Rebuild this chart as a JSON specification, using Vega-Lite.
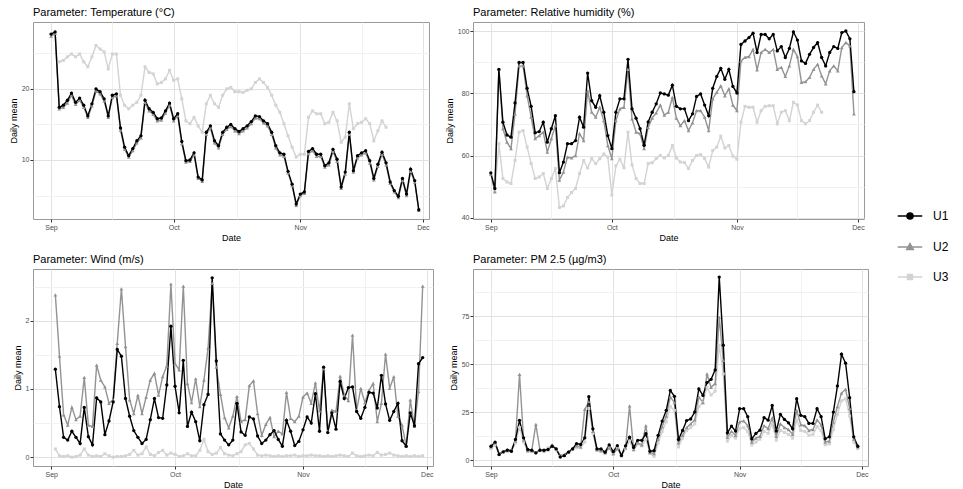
{
"$schema":"https://vega.github.io/schema/vega-lite/v6.json",
"background":"white",
"padding":{"left":8,"top":6,"right":5,"bottom":5},
"config":{
"font":"Liberation Sans",
"view":{"stroke":"#9a9a9a","strokeWidth":1},
"axis":{"labelFontSize":7,"labelColor":"#4d4d4d","titleFontSize":9,"titleFontWeight":"normal","titleColor":"black","tickColor":"#333333","tickSize":3,"domain":false,"labelPadding":1,"titlePadding":3,"labelFlush":false,"labelOverlap":false},
"title":{"fontSize":11,"fontWeight":"normal","anchor":"start","frame":"group","color":"black","offset":4},
"legend":{"padding":0},
"line":{"strokeWidth":1.4},
"point":{"filled":true,"size":11,"opacity":1}
},
"data":{"format":{"parse":{"d":"date:'%m-%d'"}},"values":[
{"p":"T","s":"U3","d":"09-03","v":23.8},{"p":"T","s":"U3","d":"09-04","v":24.0},{"p":"T","s":"U3","d":"09-05","v":24.5},{"p":"T","s":"U3","d":"09-06","v":24.9},{"p":"T","s":"U3","d":"09-07","v":24.5},{"p":"T","s":"U3","d":"09-08","v":24.9},{"p":"T","s":"U3","d":"09-09","v":23.8},{"p":"T","s":"U3","d":"09-10","v":23.1},{"p":"T","s":"U3","d":"09-11","v":24.5},{"p":"T","s":"U3","d":"09-12","v":26.1},{"p":"T","s":"U3","d":"09-13","v":25.6},{"p":"T","s":"U3","d":"09-14","v":25.2},{"p":"T","s":"U3","d":"09-15","v":22.8},{"p":"T","s":"U3","d":"09-16","v":24.9},{"p":"T","s":"U3","d":"09-17","v":24.9},{"p":"T","s":"U3","d":"09-18","v":19.1},{"p":"T","s":"U3","d":"09-19","v":17.7},{"p":"T","s":"U3","d":"09-20","v":17.2},{"p":"T","s":"U3","d":"09-21","v":17.7},{"p":"T","s":"U3","d":"09-22","v":18.1},{"p":"T","s":"U3","d":"09-23","v":19.1},{"p":"T","s":"U3","d":"09-24","v":23.1},{"p":"T","s":"U3","d":"09-25","v":22.3},{"p":"T","s":"U3","d":"09-26","v":22.1},{"p":"T","s":"U3","d":"09-27","v":20.7},{"p":"T","s":"U3","d":"09-28","v":20.9},{"p":"T","s":"U3","d":"09-29","v":21.4},{"p":"T","s":"U3","d":"09-30","v":22.6},{"p":"T","s":"U3","d":"10-01","v":21.2},{"p":"T","s":"U3","d":"10-02","v":21.4},{"p":"T","s":"U3","d":"10-03","v":18.6},{"p":"T","s":"U3","d":"10-04","v":15.5},{"p":"T","s":"U3","d":"10-05","v":15.1},{"p":"T","s":"U3","d":"10-06","v":16.0},{"p":"T","s":"U3","d":"10-07","v":14.8},{"p":"T","s":"U3","d":"10-08","v":13.9},{"p":"T","s":"U3","d":"10-09","v":17.9},{"p":"T","s":"U3","d":"10-10","v":19.1},{"p":"T","s":"U3","d":"10-11","v":17.9},{"p":"T","s":"U3","d":"10-12","v":17.4},{"p":"T","s":"U3","d":"10-13","v":19.1},{"p":"T","s":"U3","d":"10-14","v":20.0},{"p":"T","s":"U3","d":"10-15","v":20.2},{"p":"T","s":"U3","d":"10-16","v":19.6},{"p":"T","s":"U3","d":"10-17","v":19.6},{"p":"T","s":"U3","d":"10-18","v":19.5},{"p":"T","s":"U3","d":"10-19","v":19.8},{"p":"T","s":"U3","d":"10-20","v":20.0},{"p":"T","s":"U3","d":"10-21","v":20.9},{"p":"T","s":"U3","d":"10-22","v":21.4},{"p":"T","s":"U3","d":"10-23","v":20.9},{"p":"T","s":"U3","d":"10-24","v":20.2},{"p":"T","s":"U3","d":"10-25","v":19.1},{"p":"T","s":"U3","d":"10-26","v":17.7},{"p":"T","s":"U3","d":"10-27","v":16.7},{"p":"T","s":"U3","d":"10-28","v":15.1},{"p":"T","s":"U3","d":"10-29","v":13.4},{"p":"T","s":"U3","d":"10-30","v":11.8},{"p":"T","s":"U3","d":"10-31","v":10.4},{"p":"T","s":"U3","d":"11-01","v":10.8},{"p":"T","s":"U3","d":"11-02","v":10.8},{"p":"T","s":"U3","d":"11-03","v":16.0},{"p":"T","s":"U3","d":"11-04","v":16.9},{"p":"T","s":"U3","d":"11-05","v":16.5},{"p":"T","s":"U3","d":"11-06","v":16.5},{"p":"T","s":"U3","d":"11-07","v":15.1},{"p":"T","s":"U3","d":"11-08","v":15.3},{"p":"T","s":"U3","d":"11-09","v":16.7},{"p":"T","s":"U3","d":"11-10","v":15.5},{"p":"T","s":"U3","d":"11-11","v":12.5},{"p":"T","s":"U3","d":"11-12","v":13.2},{"p":"T","s":"U3","d":"11-13","v":17.9},{"p":"T","s":"U3","d":"11-14","v":14.4},{"p":"T","s":"U3","d":"11-15","v":15.1},{"p":"T","s":"U3","d":"11-16","v":15.3},{"p":"T","s":"U3","d":"11-17","v":15.8},{"p":"T","s":"U3","d":"11-18","v":15.1},{"p":"T","s":"U3","d":"11-19","v":12.7},{"p":"T","s":"U3","d":"11-20","v":14.1},{"p":"T","s":"U3","d":"11-21","v":15.5},{"p":"T","s":"U3","d":"11-22","v":14.6},
{"p":"T","s":"U2","d":"09-01","v":27.4},{"p":"T","s":"U2","d":"09-02","v":27.8},{"p":"T","s":"U2","d":"09-03","v":17.2},{"p":"T","s":"U2","d":"09-04","v":17.4},{"p":"T","s":"U2","d":"09-05","v":18.0},{"p":"T","s":"U2","d":"09-06","v":19.1},{"p":"T","s":"U2","d":"09-07","v":17.8},{"p":"T","s":"U2","d":"09-08","v":18.4},{"p":"T","s":"U2","d":"09-09","v":17.4},{"p":"T","s":"U2","d":"09-10","v":16.0},{"p":"T","s":"U2","d":"09-11","v":17.6},{"p":"T","s":"U2","d":"09-12","v":19.7},{"p":"T","s":"U2","d":"09-13","v":19.3},{"p":"T","s":"U2","d":"09-14","v":18.3},{"p":"T","s":"U2","d":"09-15","v":16.0},{"p":"T","s":"U2","d":"09-16","v":18.8},{"p":"T","s":"U2","d":"09-17","v":19.0},{"p":"T","s":"U2","d":"09-18","v":14.2},{"p":"T","s":"U2","d":"09-19","v":11.5},{"p":"T","s":"U2","d":"09-20","v":10.4},{"p":"T","s":"U2","d":"09-21","v":11.3},{"p":"T","s":"U2","d":"09-22","v":12.4},{"p":"T","s":"U2","d":"09-23","v":13.1},{"p":"T","s":"U2","d":"09-24","v":18.1},{"p":"T","s":"U2","d":"09-25","v":16.9},{"p":"T","s":"U2","d":"09-26","v":16.4},{"p":"T","s":"U2","d":"09-27","v":15.5},{"p":"T","s":"U2","d":"09-28","v":15.6},{"p":"T","s":"U2","d":"09-29","v":16.6},{"p":"T","s":"U2","d":"09-30","v":17.7},{"p":"T","s":"U2","d":"10-01","v":15.5},{"p":"T","s":"U2","d":"10-02","v":16.2},{"p":"T","s":"U2","d":"10-03","v":12.3},{"p":"T","s":"U2","d":"10-04","v":9.7},{"p":"T","s":"U2","d":"10-05","v":9.8},{"p":"T","s":"U2","d":"10-06","v":10.7},{"p":"T","s":"U2","d":"10-07","v":7.4},{"p":"T","s":"U2","d":"10-08","v":7.0},{"p":"T","s":"U2","d":"10-09","v":13.6},{"p":"T","s":"U2","d":"10-10","v":14.5},{"p":"T","s":"U2","d":"10-11","v":12.4},{"p":"T","s":"U2","d":"10-12","v":11.7},{"p":"T","s":"U2","d":"10-13","v":13.6},{"p":"T","s":"U2","d":"10-14","v":14.3},{"p":"T","s":"U2","d":"10-15","v":14.7},{"p":"T","s":"U2","d":"10-16","v":14.1},{"p":"T","s":"U2","d":"10-17","v":13.7},{"p":"T","s":"U2","d":"10-18","v":14.1},{"p":"T","s":"U2","d":"10-19","v":14.5},{"p":"T","s":"U2","d":"10-20","v":15.1},{"p":"T","s":"U2","d":"10-21","v":15.9},{"p":"T","s":"U2","d":"10-22","v":15.8},{"p":"T","s":"U2","d":"10-23","v":15.2},{"p":"T","s":"U2","d":"10-24","v":14.8},{"p":"T","s":"U2","d":"10-25","v":13.6},{"p":"T","s":"U2","d":"10-26","v":11.7},{"p":"T","s":"U2","d":"10-27","v":10.7},{"p":"T","s":"U2","d":"10-28","v":10.5},{"p":"T","s":"U2","d":"10-29","v":8.2},{"p":"T","s":"U2","d":"10-30","v":6.4},{"p":"T","s":"U2","d":"10-31","v":3.6},{"p":"T","s":"U2","d":"11-01","v":5.0},{"p":"T","s":"U2","d":"11-02","v":5.3},{"p":"T","s":"U2","d":"11-03","v":10.9},{"p":"T","s":"U2","d":"11-04","v":11.3},{"p":"T","s":"U2","d":"11-05","v":10.5},{"p":"T","s":"U2","d":"11-06","v":10.5},{"p":"T","s":"U2","d":"11-07","v":9.0},{"p":"T","s":"U2","d":"11-08","v":9.3},{"p":"T","s":"U2","d":"11-09","v":11.2},{"p":"T","s":"U2","d":"11-10","v":9.8},{"p":"T","s":"U2","d":"11-11","v":6.0},{"p":"T","s":"U2","d":"11-12","v":8.0},{"p":"T","s":"U2","d":"11-13","v":13.6},{"p":"T","s":"U2","d":"11-14","v":8.3},{"p":"T","s":"U2","d":"11-15","v":10.3},{"p":"T","s":"U2","d":"11-16","v":10.7},{"p":"T","s":"U2","d":"11-17","v":11.0},{"p":"T","s":"U2","d":"11-18","v":9.6},{"p":"T","s":"U2","d":"11-19","v":7.2},{"p":"T","s":"U2","d":"11-20","v":9.1},{"p":"T","s":"U2","d":"11-21","v":10.8},{"p":"T","s":"U2","d":"11-22","v":9.3},{"p":"T","s":"U2","d":"11-23","v":6.7},{"p":"T","s":"U2","d":"11-24","v":5.5},{"p":"T","s":"U2","d":"11-25","v":4.7},{"p":"T","s":"U2","d":"11-26","v":7.1},{"p":"T","s":"U2","d":"11-27","v":5.0},{"p":"T","s":"U2","d":"11-28","v":8.4},{"p":"T","s":"U2","d":"11-29","v":6.9},{"p":"T","s":"U2","d":"11-30","v":2.9},
{"p":"T","s":"U1","d":"09-01","v":27.7},{"p":"T","s":"U1","d":"09-02","v":28.0},{"p":"T","s":"U1","d":"09-03","v":17.4},{"p":"T","s":"U1","d":"09-04","v":17.7},{"p":"T","s":"U1","d":"09-05","v":18.4},{"p":"T","s":"U1","d":"09-06","v":19.4},{"p":"T","s":"U1","d":"09-07","v":18.1},{"p":"T","s":"U1","d":"09-08","v":18.7},{"p":"T","s":"U1","d":"09-09","v":17.7},{"p":"T","s":"U1","d":"09-10","v":16.2},{"p":"T","s":"U1","d":"09-11","v":17.9},{"p":"T","s":"U1","d":"09-12","v":20.0},{"p":"T","s":"U1","d":"09-13","v":19.6},{"p":"T","s":"U1","d":"09-14","v":18.6},{"p":"T","s":"U1","d":"09-15","v":16.2},{"p":"T","s":"U1","d":"09-16","v":19.1},{"p":"T","s":"U1","d":"09-17","v":19.3},{"p":"T","s":"U1","d":"09-18","v":14.5},{"p":"T","s":"U1","d":"09-19","v":11.8},{"p":"T","s":"U1","d":"09-20","v":10.6},{"p":"T","s":"U1","d":"09-21","v":11.6},{"p":"T","s":"U1","d":"09-22","v":12.7},{"p":"T","s":"U1","d":"09-23","v":13.4},{"p":"T","s":"U1","d":"09-24","v":18.4},{"p":"T","s":"U1","d":"09-25","v":17.2},{"p":"T","s":"U1","d":"09-26","v":16.7},{"p":"T","s":"U1","d":"09-27","v":15.8},{"p":"T","s":"U1","d":"09-28","v":15.9},{"p":"T","s":"U1","d":"09-29","v":16.9},{"p":"T","s":"U1","d":"09-30","v":18.0},{"p":"T","s":"U1","d":"10-01","v":15.8},{"p":"T","s":"U1","d":"10-02","v":16.5},{"p":"T","s":"U1","d":"10-03","v":12.6},{"p":"T","s":"U1","d":"10-04","v":9.9},{"p":"T","s":"U1","d":"10-05","v":10.0},{"p":"T","s":"U1","d":"10-06","v":11.0},{"p":"T","s":"U1","d":"10-07","v":7.6},{"p":"T","s":"U1","d":"10-08","v":7.2},{"p":"T","s":"U1","d":"10-09","v":13.9},{"p":"T","s":"U1","d":"10-10","v":14.8},{"p":"T","s":"U1","d":"10-11","v":12.7},{"p":"T","s":"U1","d":"10-12","v":12.0},{"p":"T","s":"U1","d":"10-13","v":13.9},{"p":"T","s":"U1","d":"10-14","v":14.6},{"p":"T","s":"U1","d":"10-15","v":15.0},{"p":"T","s":"U1","d":"10-16","v":14.4},{"p":"T","s":"U1","d":"10-17","v":14.0},{"p":"T","s":"U1","d":"10-18","v":14.4},{"p":"T","s":"U1","d":"10-19","v":14.8},{"p":"T","s":"U1","d":"10-20","v":15.4},{"p":"T","s":"U1","d":"10-21","v":16.2},{"p":"T","s":"U1","d":"10-22","v":16.1},{"p":"T","s":"U1","d":"10-23","v":15.5},{"p":"T","s":"U1","d":"10-24","v":15.1},{"p":"T","s":"U1","d":"10-25","v":13.9},{"p":"T","s":"U1","d":"10-26","v":12.0},{"p":"T","s":"U1","d":"10-27","v":11.0},{"p":"T","s":"U1","d":"10-28","v":10.8},{"p":"T","s":"U1","d":"10-29","v":8.4},{"p":"T","s":"U1","d":"10-30","v":6.6},{"p":"T","s":"U1","d":"10-31","v":3.8},{"p":"T","s":"U1","d":"11-01","v":5.2},{"p":"T","s":"U1","d":"11-02","v":5.5},{"p":"T","s":"U1","d":"11-03","v":11.2},{"p":"T","s":"U1","d":"11-04","v":11.6},{"p":"T","s":"U1","d":"11-05","v":10.8},{"p":"T","s":"U1","d":"11-06","v":10.8},{"p":"T","s":"U1","d":"11-07","v":9.2},{"p":"T","s":"U1","d":"11-08","v":9.6},{"p":"T","s":"U1","d":"11-09","v":11.5},{"p":"T","s":"U1","d":"11-10","v":10.1},{"p":"T","s":"U1","d":"11-11","v":6.2},{"p":"T","s":"U1","d":"11-12","v":8.3},{"p":"T","s":"U1","d":"11-13","v":13.9},{"p":"T","s":"U1","d":"11-14","v":8.5},{"p":"T","s":"U1","d":"11-15","v":10.6},{"p":"T","s":"U1","d":"11-16","v":11.0},{"p":"T","s":"U1","d":"11-17","v":11.3},{"p":"T","s":"U1","d":"11-18","v":9.9},{"p":"T","s":"U1","d":"11-19","v":7.4},{"p":"T","s":"U1","d":"11-20","v":9.4},{"p":"T","s":"U1","d":"11-21","v":11.1},{"p":"T","s":"U1","d":"11-22","v":9.6},{"p":"T","s":"U1","d":"11-23","v":6.9},{"p":"T","s":"U1","d":"11-24","v":5.7},{"p":"T","s":"U1","d":"11-25","v":4.9},{"p":"T","s":"U1","d":"11-26","v":7.4},{"p":"T","s":"U1","d":"11-27","v":5.2},{"p":"T","s":"U1","d":"11-28","v":8.7},{"p":"T","s":"U1","d":"11-29","v":7.1},{"p":"T","s":"U1","d":"11-30","v":3.0},
{"p":"H","s":"U3","d":"09-02","v":48.5},{"p":"H","s":"U3","d":"09-03","v":63.8},{"p":"H","s":"U3","d":"09-04","v":52.6},{"p":"H","s":"U3","d":"09-05","v":51.5},{"p":"H","s":"U3","d":"09-06","v":51.0},{"p":"H","s":"U3","d":"09-07","v":58.4},{"p":"H","s":"U3","d":"09-08","v":67.5},{"p":"H","s":"U3","d":"09-09","v":68.0},{"p":"H","s":"U3","d":"09-10","v":62.7},{"p":"H","s":"U3","d":"09-11","v":57.4},{"p":"H","s":"U3","d":"09-12","v":52.6},{"p":"H","s":"U3","d":"09-13","v":53.1},{"p":"H","s":"U3","d":"09-14","v":54.2},{"p":"H","s":"U3","d":"09-15","v":49.4},{"p":"H","s":"U3","d":"09-16","v":52.6},{"p":"H","s":"U3","d":"09-17","v":55.8},{"p":"H","s":"U3","d":"09-18","v":43.3},{"p":"H","s":"U3","d":"09-19","v":43.8},{"p":"H","s":"U3","d":"09-20","v":46.5},{"p":"H","s":"U3","d":"09-21","v":48.1},{"p":"H","s":"U3","d":"09-22","v":49.4},{"p":"H","s":"U3","d":"09-23","v":54.2},{"p":"H","s":"U3","d":"09-24","v":58.4},{"p":"H","s":"U3","d":"09-25","v":56.0},{"p":"H","s":"U3","d":"09-26","v":59.0},{"p":"H","s":"U3","d":"09-27","v":57.4},{"p":"H","s":"U3","d":"09-28","v":59.0},{"p":"H","s":"U3","d":"09-29","v":60.5},{"p":"H","s":"U3","d":"09-30","v":59.5},{"p":"H","s":"U3","d":"10-01","v":47.3},{"p":"H","s":"U3","d":"10-02","v":56.7},{"p":"H","s":"U3","d":"10-03","v":58.8},{"p":"H","s":"U3","d":"10-04","v":56.1},{"p":"H","s":"U3","d":"10-05","v":67.5},{"p":"H","s":"U3","d":"10-06","v":57.0},{"p":"H","s":"U3","d":"10-07","v":52.6},{"p":"H","s":"U3","d":"10-08","v":51.0},{"p":"H","s":"U3","d":"10-09","v":51.0},{"p":"H","s":"U3","d":"10-10","v":57.4},{"p":"H","s":"U3","d":"10-11","v":57.7},{"p":"H","s":"U3","d":"10-12","v":59.0},{"p":"H","s":"U3","d":"10-13","v":60.0},{"p":"H","s":"U3","d":"10-14","v":59.2},{"p":"H","s":"U3","d":"10-15","v":60.0},{"p":"H","s":"U3","d":"10-16","v":63.2},{"p":"H","s":"U3","d":"10-17","v":59.2},{"p":"H","s":"U3","d":"10-18","v":57.9},{"p":"H","s":"U3","d":"10-19","v":57.7},{"p":"H","s":"U3","d":"10-20","v":55.8},{"p":"H","s":"U3","d":"10-21","v":58.4},{"p":"H","s":"U3","d":"10-22","v":60.0},{"p":"H","s":"U3","d":"10-23","v":60.3},{"p":"H","s":"U3","d":"10-24","v":59.0},{"p":"H","s":"U3","d":"10-25","v":56.3},{"p":"H","s":"U3","d":"10-26","v":61.6},{"p":"H","s":"U3","d":"10-27","v":62.7},{"p":"H","s":"U3","d":"10-28","v":66.2},{"p":"H","s":"U3","d":"10-29","v":62.4},{"p":"H","s":"U3","d":"10-30","v":63.2},{"p":"H","s":"U3","d":"10-31","v":59.8},{"p":"H","s":"U3","d":"11-01","v":58.8},{"p":"H","s":"U3","d":"11-02","v":70.7},{"p":"H","s":"U3","d":"11-03","v":75.8},{"p":"H","s":"U3","d":"11-04","v":75.5},{"p":"H","s":"U3","d":"11-05","v":75.5},{"p":"H","s":"U3","d":"11-06","v":70.7},{"p":"H","s":"U3","d":"11-07","v":74.4},{"p":"H","s":"U3","d":"11-08","v":75.8},{"p":"H","s":"U3","d":"11-09","v":76.0},{"p":"H","s":"U3","d":"11-10","v":76.0},{"p":"H","s":"U3","d":"11-11","v":70.2},{"p":"H","s":"U3","d":"11-12","v":73.9},{"p":"H","s":"U3","d":"11-13","v":74.4},{"p":"H","s":"U3","d":"11-14","v":71.2},{"p":"H","s":"U3","d":"11-15","v":77.1},{"p":"H","s":"U3","d":"11-16","v":76.2},{"p":"H","s":"U3","d":"11-17","v":71.2},{"p":"H","s":"U3","d":"11-18","v":70.2},{"p":"H","s":"U3","d":"11-19","v":71.2},{"p":"H","s":"U3","d":"11-20","v":73.9},{"p":"H","s":"U3","d":"11-21","v":76.2},{"p":"H","s":"U3","d":"11-22","v":73.9},
{"p":"H","s":"U2","d":"09-01","v":54.0},{"p":"H","s":"U2","d":"09-02","v":48.3},{"p":"H","s":"U2","d":"09-03","v":87.7},{"p":"H","s":"U2","d":"09-04","v":68.6},{"p":"H","s":"U2","d":"09-05","v":64.3},{"p":"H","s":"U2","d":"09-06","v":62.2},{"p":"H","s":"U2","d":"09-07","v":73.4},{"p":"H","s":"U2","d":"09-08","v":88.8},{"p":"H","s":"U2","d":"09-09","v":88.8},{"p":"H","s":"U2","d":"09-10","v":79.2},{"p":"H","s":"U2","d":"09-11","v":72.3},{"p":"H","s":"U2","d":"09-12","v":65.4},{"p":"H","s":"U2","d":"09-13","v":66.4},{"p":"H","s":"U2","d":"09-14","v":67.5},{"p":"H","s":"U2","d":"09-15","v":61.1},{"p":"H","s":"U2","d":"09-16","v":65.4},{"p":"H","s":"U2","d":"09-17","v":69.6},{"p":"H","s":"U2","d":"09-18","v":52.1},{"p":"H","s":"U2","d":"09-19","v":54.7},{"p":"H","s":"U2","d":"09-20","v":59.5},{"p":"H","s":"U2","d":"09-21","v":59.2},{"p":"H","s":"U2","d":"09-22","v":60.0},{"p":"H","s":"U2","d":"09-23","v":67.0},{"p":"H","s":"U2","d":"09-24","v":64.8},{"p":"H","s":"U2","d":"09-25","v":80.8},{"p":"H","s":"U2","d":"09-26","v":73.9},{"p":"H","s":"U2","d":"09-27","v":72.3},{"p":"H","s":"U2","d":"09-28","v":75.5},{"p":"H","s":"U2","d":"09-29","v":71.2},{"p":"H","s":"U2","d":"09-30","v":63.2},{"p":"H","s":"U2","d":"10-01","v":59.0},{"p":"H","s":"U2","d":"10-02","v":71.2},{"p":"H","s":"U2","d":"10-03","v":75.0},{"p":"H","s":"U2","d":"10-04","v":75.5},{"p":"H","s":"U2","d":"10-05","v":87.7},{"p":"H","s":"U2","d":"10-06","v":71.8},{"p":"H","s":"U2","d":"10-07","v":67.5},{"p":"H","s":"U2","d":"10-08","v":67.0},{"p":"H","s":"U2","d":"10-09","v":62.2},{"p":"H","s":"U2","d":"10-10","v":69.0},{"p":"H","s":"U2","d":"10-11","v":72.0},{"p":"H","s":"U2","d":"10-12","v":73.7},{"p":"H","s":"U2","d":"10-13","v":76.2},{"p":"H","s":"U2","d":"10-14","v":73.0},{"p":"H","s":"U2","d":"10-15","v":73.9},{"p":"H","s":"U2","d":"10-16","v":78.7},{"p":"H","s":"U2","d":"10-17","v":72.0},{"p":"H","s":"U2","d":"10-18","v":69.6},{"p":"H","s":"U2","d":"10-19","v":71.2},{"p":"H","s":"U2","d":"10-20","v":68.0},{"p":"H","s":"U2","d":"10-21","v":70.5},{"p":"H","s":"U2","d":"10-22","v":74.4},{"p":"H","s":"U2","d":"10-23","v":74.4},{"p":"H","s":"U2","d":"10-24","v":72.3},{"p":"H","s":"U2","d":"10-25","v":68.0},{"p":"H","s":"U2","d":"10-26","v":78.2},{"p":"H","s":"U2","d":"10-27","v":80.3},{"p":"H","s":"U2","d":"10-28","v":82.4},{"p":"H","s":"U2","d":"10-29","v":79.2},{"p":"H","s":"U2","d":"10-30","v":81.4},{"p":"H","s":"U2","d":"10-31","v":76.2},{"p":"H","s":"U2","d":"11-01","v":74.4},{"p":"H","s":"U2","d":"11-02","v":90.4},{"p":"H","s":"U2","d":"11-03","v":91.5},{"p":"H","s":"U2","d":"11-04","v":91.8},{"p":"H","s":"U2","d":"11-05","v":94.1},{"p":"H","s":"U2","d":"11-06","v":87.5},{"p":"H","s":"U2","d":"11-07","v":93.1},{"p":"H","s":"U2","d":"11-08","v":94.1},{"p":"H","s":"U2","d":"11-09","v":93.1},{"p":"H","s":"U2","d":"11-10","v":94.1},{"p":"H","s":"U2","d":"11-11","v":87.7},{"p":"H","s":"U2","d":"11-12","v":88.3},{"p":"H","s":"U2","d":"11-13","v":85.4},{"p":"H","s":"U2","d":"11-14","v":88.8},{"p":"H","s":"U2","d":"11-15","v":94.1},{"p":"H","s":"U2","d":"11-16","v":91.8},{"p":"H","s":"U2","d":"11-17","v":83.5},{"p":"H","s":"U2","d":"11-18","v":83.7},{"p":"H","s":"U2","d":"11-19","v":85.1},{"p":"H","s":"U2","d":"11-20","v":87.7},{"p":"H","s":"U2","d":"11-21","v":89.3},{"p":"H","s":"U2","d":"11-22","v":85.6},{"p":"H","s":"U2","d":"11-23","v":83.0},{"p":"H","s":"U2","d":"11-24","v":87.2},{"p":"H","s":"U2","d":"11-25","v":88.8},{"p":"H","s":"U2","d":"11-26","v":87.2},{"p":"H","s":"U2","d":"11-27","v":94.7},{"p":"H","s":"U2","d":"11-28","v":96.3},{"p":"H","s":"U2","d":"11-29","v":95.2},{"p":"H","s":"U2","d":"11-30","v":73.4},
{"p":"H","s":"U1","d":"09-01","v":54.4},{"p":"H","s":"U1","d":"09-02","v":49.4},{"p":"H","s":"U1","d":"09-03","v":87.7},{"p":"H","s":"U1","d":"09-04","v":70.7},{"p":"H","s":"U1","d":"09-05","v":66.6},{"p":"H","s":"U1","d":"09-06","v":65.9},{"p":"H","s":"U1","d":"09-07","v":76.9},{"p":"H","s":"U1","d":"09-08","v":89.9},{"p":"H","s":"U1","d":"09-09","v":89.9},{"p":"H","s":"U1","d":"09-10","v":81.6},{"p":"H","s":"U1","d":"09-11","v":75.8},{"p":"H","s":"U1","d":"09-12","v":67.3},{"p":"H","s":"U1","d":"09-13","v":67.7},{"p":"H","s":"U1","d":"09-14","v":70.7},{"p":"H","s":"U1","d":"09-15","v":64.3},{"p":"H","s":"U1","d":"09-16","v":68.6},{"p":"H","s":"U1","d":"09-17","v":72.8},{"p":"H","s":"U1","d":"09-18","v":54.5},{"p":"H","s":"U1","d":"09-19","v":57.9},{"p":"H","s":"U1","d":"09-20","v":63.8},{"p":"H","s":"U1","d":"09-21","v":63.8},{"p":"H","s":"U1","d":"09-22","v":64.8},{"p":"H","s":"U1","d":"09-23","v":72.3},{"p":"H","s":"U1","d":"09-24","v":69.1},{"p":"H","s":"U1","d":"09-25","v":86.5},{"p":"H","s":"U1","d":"09-26","v":77.6},{"p":"H","s":"U1","d":"09-27","v":75.5},{"p":"H","s":"U1","d":"09-28","v":79.2},{"p":"H","s":"U1","d":"09-29","v":73.9},{"p":"H","s":"U1","d":"09-30","v":66.4},{"p":"H","s":"U1","d":"10-01","v":62.2},{"p":"H","s":"U1","d":"10-02","v":73.9},{"p":"H","s":"U1","d":"10-03","v":78.2},{"p":"H","s":"U1","d":"10-04","v":78.2},{"p":"H","s":"U1","d":"10-05","v":90.9},{"p":"H","s":"U1","d":"10-06","v":75.0},{"p":"H","s":"U1","d":"10-07","v":72.0},{"p":"H","s":"U1","d":"10-08","v":68.6},{"p":"H","s":"U1","d":"10-09","v":63.3},{"p":"H","s":"U1","d":"10-10","v":70.8},{"p":"H","s":"U1","d":"10-11","v":73.9},{"p":"H","s":"U1","d":"10-12","v":76.6},{"p":"H","s":"U1","d":"10-13","v":80.1},{"p":"H","s":"U1","d":"10-14","v":79.8},{"p":"H","s":"U1","d":"10-15","v":79.4},{"p":"H","s":"U1","d":"10-16","v":82.6},{"p":"H","s":"U1","d":"10-17","v":75.8},{"p":"H","s":"U1","d":"10-18","v":75.0},{"p":"H","s":"U1","d":"10-19","v":75.0},{"p":"H","s":"U1","d":"10-20","v":71.2},{"p":"H","s":"U1","d":"10-21","v":73.4},{"p":"H","s":"U1","d":"10-22","v":79.0},{"p":"H","s":"U1","d":"10-23","v":79.8},{"p":"H","s":"U1","d":"10-24","v":76.2},{"p":"H","s":"U1","d":"10-25","v":72.8},{"p":"H","s":"U1","d":"10-26","v":81.6},{"p":"H","s":"U1","d":"10-27","v":85.4},{"p":"H","s":"U1","d":"10-28","v":88.0},{"p":"H","s":"U1","d":"10-29","v":84.5},{"p":"H","s":"U1","d":"10-30","v":87.7},{"p":"H","s":"U1","d":"10-31","v":82.2},{"p":"H","s":"U1","d":"11-01","v":80.1},{"p":"H","s":"U1","d":"11-02","v":95.7},{"p":"H","s":"U1","d":"11-03","v":96.8},{"p":"H","s":"U1","d":"11-04","v":97.9},{"p":"H","s":"U1","d":"11-05","v":99.3},{"p":"H","s":"U1","d":"11-06","v":93.1},{"p":"H","s":"U1","d":"11-07","v":98.9},{"p":"H","s":"U1","d":"11-08","v":98.9},{"p":"H","s":"U1","d":"11-09","v":97.5},{"p":"H","s":"U1","d":"11-10","v":98.9},{"p":"H","s":"U1","d":"11-11","v":93.6},{"p":"H","s":"U1","d":"11-12","v":95.0},{"p":"H","s":"U1","d":"11-13","v":91.5},{"p":"H","s":"U1","d":"11-14","v":94.4},{"p":"H","s":"U1","d":"11-15","v":99.7},{"p":"H","s":"U1","d":"11-16","v":97.1},{"p":"H","s":"U1","d":"11-17","v":90.4},{"p":"H","s":"U1","d":"11-18","v":89.6},{"p":"H","s":"U1","d":"11-19","v":92.5},{"p":"H","s":"U1","d":"11-20","v":94.7},{"p":"H","s":"U1","d":"11-21","v":96.3},{"p":"H","s":"U1","d":"11-22","v":91.5},{"p":"H","s":"U1","d":"11-23","v":88.8},{"p":"H","s":"U1","d":"11-24","v":93.1},{"p":"H","s":"U1","d":"11-25","v":95.0},{"p":"H","s":"U1","d":"11-26","v":94.4},{"p":"H","s":"U1","d":"11-27","v":99.5},{"p":"H","s":"U1","d":"11-28","v":100.0},{"p":"H","s":"U1","d":"11-29","v":97.5},{"p":"H","s":"U1","d":"11-30","v":80.5},
{"p":"W","s":"U3","d":"09-02","v":0.12},{"p":"W","s":"U3","d":"09-03","v":0.02},{"p":"W","s":"U3","d":"09-04","v":0.01},{"p":"W","s":"U3","d":"09-05","v":0.02},{"p":"W","s":"U3","d":"09-06","v":0.0},{"p":"W","s":"U3","d":"09-07","v":0.01},{"p":"W","s":"U3","d":"09-08","v":0.03},{"p":"W","s":"U3","d":"09-09","v":0.12},{"p":"W","s":"U3","d":"09-10","v":0.03},{"p":"W","s":"U3","d":"09-11","v":0.01},{"p":"W","s":"U3","d":"09-12","v":0.02},{"p":"W","s":"U3","d":"09-13","v":0.01},{"p":"W","s":"U3","d":"09-14","v":0.05},{"p":"W","s":"U3","d":"09-15","v":0.02},{"p":"W","s":"U3","d":"09-16","v":0.0},{"p":"W","s":"U3","d":"09-17","v":0.01},{"p":"W","s":"U3","d":"09-18","v":0.01},{"p":"W","s":"U3","d":"09-19","v":0.02},{"p":"W","s":"U3","d":"09-20","v":0.04},{"p":"W","s":"U3","d":"09-21","v":0.1},{"p":"W","s":"U3","d":"09-22","v":0.03},{"p":"W","s":"U3","d":"09-23","v":0.05},{"p":"W","s":"U3","d":"09-24","v":0.15},{"p":"W","s":"U3","d":"09-25","v":0.04},{"p":"W","s":"U3","d":"09-26","v":0.02},{"p":"W","s":"U3","d":"09-27","v":0.07},{"p":"W","s":"U3","d":"09-28","v":0.1},{"p":"W","s":"U3","d":"09-29","v":0.03},{"p":"W","s":"U3","d":"09-30","v":0.06},{"p":"W","s":"U3","d":"10-01","v":0.04},{"p":"W","s":"U3","d":"10-02","v":0.01},{"p":"W","s":"U3","d":"10-03","v":0.02},{"p":"W","s":"U3","d":"10-04","v":0.05},{"p":"W","s":"U3","d":"10-05","v":0.02},{"p":"W","s":"U3","d":"10-06","v":0.02},{"p":"W","s":"U3","d":"10-07","v":0.1},{"p":"W","s":"U3","d":"10-08","v":0.26},{"p":"W","s":"U3","d":"10-09","v":0.08},{"p":"W","s":"U3","d":"10-10","v":0.04},{"p":"W","s":"U3","d":"10-11","v":0.06},{"p":"W","s":"U3","d":"10-12","v":0.14},{"p":"W","s":"U3","d":"10-13","v":0.05},{"p":"W","s":"U3","d":"10-14","v":0.03},{"p":"W","s":"U3","d":"10-15","v":0.02},{"p":"W","s":"U3","d":"10-16","v":0.05},{"p":"W","s":"U3","d":"10-17","v":0.08},{"p":"W","s":"U3","d":"10-18","v":0.18},{"p":"W","s":"U3","d":"10-19","v":0.2},{"p":"W","s":"U3","d":"10-20","v":0.12},{"p":"W","s":"U3","d":"10-21","v":0.03},{"p":"W","s":"U3","d":"10-22","v":0.02},{"p":"W","s":"U3","d":"10-23","v":0.03},{"p":"W","s":"U3","d":"10-24","v":0.02},{"p":"W","s":"U3","d":"10-25","v":0.01},{"p":"W","s":"U3","d":"10-26","v":0.02},{"p":"W","s":"U3","d":"10-27","v":0.01},{"p":"W","s":"U3","d":"10-28","v":0.02},{"p":"W","s":"U3","d":"10-29","v":0.02},{"p":"W","s":"U3","d":"10-30","v":0.03},{"p":"W","s":"U3","d":"10-31","v":0.01},{"p":"W","s":"U3","d":"11-01","v":0.02},{"p":"W","s":"U3","d":"11-02","v":0.02},{"p":"W","s":"U3","d":"11-03","v":0.03},{"p":"W","s":"U3","d":"11-04","v":0.02},{"p":"W","s":"U3","d":"11-05","v":0.02},{"p":"W","s":"U3","d":"11-06","v":0.01},{"p":"W","s":"U3","d":"11-07","v":0.02},{"p":"W","s":"U3","d":"11-08","v":0.01},{"p":"W","s":"U3","d":"11-09","v":0.02},{"p":"W","s":"U3","d":"11-10","v":0.03},{"p":"W","s":"U3","d":"11-11","v":0.02},{"p":"W","s":"U3","d":"11-12","v":0.01},{"p":"W","s":"U3","d":"11-13","v":0.06},{"p":"W","s":"U3","d":"11-14","v":0.02},{"p":"W","s":"U3","d":"11-15","v":0.01},{"p":"W","s":"U3","d":"11-16","v":0.02},{"p":"W","s":"U3","d":"11-17","v":0.03},{"p":"W","s":"U3","d":"11-18","v":0.02},{"p":"W","s":"U3","d":"11-19","v":0.07},{"p":"W","s":"U3","d":"11-20","v":0.03},{"p":"W","s":"U3","d":"11-21","v":0.04},{"p":"W","s":"U3","d":"11-22","v":0.06},{"p":"W","s":"U3","d":"11-23","v":0.03},{"p":"W","s":"U3","d":"11-24","v":0.02},{"p":"W","s":"U3","d":"11-25","v":0.01},{"p":"W","s":"U3","d":"11-26","v":0.02},{"p":"W","s":"U3","d":"11-27","v":0.01},{"p":"W","s":"U3","d":"11-28","v":0.02},{"p":"W","s":"U3","d":"11-29","v":0.01},{"p":"W","s":"U3","d":"11-30","v":0.02},
{"p":"W","s":"U2","d":"09-02","v":2.38},{"p":"W","s":"U2","d":"09-03","v":1.48},{"p":"W","s":"U2","d":"09-04","v":0.62},{"p":"W","s":"U2","d":"09-05","v":0.47},{"p":"W","s":"U2","d":"09-06","v":0.73},{"p":"W","s":"U2","d":"09-07","v":0.55},{"p":"W","s":"U2","d":"09-08","v":0.6},{"p":"W","s":"U2","d":"09-09","v":1.17},{"p":"W","s":"U2","d":"09-10","v":0.47},{"p":"W","s":"U2","d":"09-11","v":0.45},{"p":"W","s":"U2","d":"09-12","v":1.35},{"p":"W","s":"U2","d":"09-13","v":1.13},{"p":"W","s":"U2","d":"09-14","v":1.03},{"p":"W","s":"U2","d":"09-15","v":0.79},{"p":"W","s":"U2","d":"09-16","v":0.84},{"p":"W","s":"U2","d":"09-17","v":1.67},{"p":"W","s":"U2","d":"09-18","v":2.47},{"p":"W","s":"U2","d":"09-19","v":1.62},{"p":"W","s":"U2","d":"09-20","v":0.84},{"p":"W","s":"U2","d":"09-21","v":0.64},{"p":"W","s":"U2","d":"09-22","v":0.91},{"p":"W","s":"U2","d":"09-23","v":0.64},{"p":"W","s":"U2","d":"09-24","v":0.88},{"p":"W","s":"U2","d":"09-25","v":1.13},{"p":"W","s":"U2","d":"09-26","v":1.23},{"p":"W","s":"U2","d":"09-27","v":0.91},{"p":"W","s":"U2","d":"09-28","v":1.18},{"p":"W","s":"U2","d":"09-29","v":1.34},{"p":"W","s":"U2","d":"09-30","v":2.54},{"p":"W","s":"U2","d":"10-01","v":1.37},{"p":"W","s":"U2","d":"10-02","v":1.28},{"p":"W","s":"U2","d":"10-03","v":2.51},{"p":"W","s":"U2","d":"10-04","v":1.08},{"p":"W","s":"U2","d":"10-05","v":0.8},{"p":"W","s":"U2","d":"10-06","v":1.15},{"p":"W","s":"U2","d":"10-07","v":0.74},{"p":"W","s":"U2","d":"10-08","v":1.13},{"p":"W","s":"U2","d":"10-09","v":1.6},{"p":"W","s":"U2","d":"10-10","v":2.55},{"p":"W","s":"U2","d":"10-11","v":1.32},{"p":"W","s":"U2","d":"10-12","v":0.92},{"p":"W","s":"U2","d":"10-13","v":0.58},{"p":"W","s":"U2","d":"10-14","v":0.43},{"p":"W","s":"U2","d":"10-15","v":0.6},{"p":"W","s":"U2","d":"10-16","v":0.89},{"p":"W","s":"U2","d":"10-17","v":0.52},{"p":"W","s":"U2","d":"10-18","v":0.55},{"p":"W","s":"U2","d":"10-19","v":1.05},{"p":"W","s":"U2","d":"10-20","v":1.12},{"p":"W","s":"U2","d":"10-21","v":0.64},{"p":"W","s":"U2","d":"10-22","v":0.32},{"p":"W","s":"U2","d":"10-23","v":0.48},{"p":"W","s":"U2","d":"10-24","v":0.58},{"p":"W","s":"U2","d":"10-25","v":0.3},{"p":"W","s":"U2","d":"10-26","v":0.38},{"p":"W","s":"U2","d":"10-27","v":0.34},{"p":"W","s":"U2","d":"10-28","v":0.95},{"p":"W","s":"U2","d":"10-29","v":0.57},{"p":"W","s":"U2","d":"10-30","v":0.52},{"p":"W","s":"U2","d":"10-31","v":0.6},{"p":"W","s":"U2","d":"11-01","v":0.88},{"p":"W","s":"U2","d":"11-02","v":0.94},{"p":"W","s":"U2","d":"11-03","v":0.79},{"p":"W","s":"U2","d":"11-04","v":1.09},{"p":"W","s":"U2","d":"11-05","v":0.68},{"p":"W","s":"U2","d":"11-06","v":1.3},{"p":"W","s":"U2","d":"11-07","v":0.38},{"p":"W","s":"U2","d":"11-08","v":0.69},{"p":"W","s":"U2","d":"11-09","v":0.67},{"p":"W","s":"U2","d":"11-10","v":1.19},{"p":"W","s":"U2","d":"11-11","v":0.91},{"p":"W","s":"U2","d":"11-12","v":0.83},{"p":"W","s":"U2","d":"11-13","v":1.79},{"p":"W","s":"U2","d":"11-14","v":0.69},{"p":"W","s":"U2","d":"11-15","v":1.01},{"p":"W","s":"U2","d":"11-16","v":0.8},{"p":"W","s":"U2","d":"11-17","v":0.98},{"p":"W","s":"U2","d":"11-18","v":1.08},{"p":"W","s":"U2","d":"11-19","v":0.52},{"p":"W","s":"U2","d":"11-20","v":0.79},{"p":"W","s":"U2","d":"11-21","v":1.51},{"p":"W","s":"U2","d":"11-22","v":1.01},{"p":"W","s":"U2","d":"11-23","v":1.18},{"p":"W","s":"U2","d":"11-24","v":0.6},{"p":"W","s":"U2","d":"11-25","v":0.47},{"p":"W","s":"U2","d":"11-26","v":0.16},{"p":"W","s":"U2","d":"11-27","v":0.84},{"p":"W","s":"U2","d":"11-28","v":0.45},{"p":"W","s":"U2","d":"11-29","v":0.96},{"p":"W","s":"U2","d":"11-30","v":2.51},
{"p":"W","s":"U1","d":"09-02","v":1.29},{"p":"W","s":"U1","d":"09-03","v":0.74},{"p":"W","s":"U1","d":"09-04","v":0.29},{"p":"W","s":"U1","d":"09-05","v":0.25},{"p":"W","s":"U1","d":"09-06","v":0.38},{"p":"W","s":"U1","d":"09-07","v":0.29},{"p":"W","s":"U1","d":"09-08","v":0.2},{"p":"W","s":"U1","d":"09-09","v":0.73},{"p":"W","s":"U1","d":"09-10","v":0.3},{"p":"W","s":"U1","d":"09-11","v":0.18},{"p":"W","s":"U1","d":"09-12","v":0.87},{"p":"W","s":"U1","d":"09-13","v":0.81},{"p":"W","s":"U1","d":"09-14","v":0.33},{"p":"W","s":"U1","d":"09-15","v":0.53},{"p":"W","s":"U1","d":"09-16","v":0.81},{"p":"W","s":"U1","d":"09-17","v":1.58},{"p":"W","s":"U1","d":"09-18","v":1.48},{"p":"W","s":"U1","d":"09-19","v":0.86},{"p":"W","s":"U1","d":"09-20","v":0.6},{"p":"W","s":"U1","d":"09-21","v":0.39},{"p":"W","s":"U1","d":"09-22","v":0.29},{"p":"W","s":"U1","d":"09-23","v":0.2},{"p":"W","s":"U1","d":"09-24","v":0.26},{"p":"W","s":"U1","d":"09-25","v":0.55},{"p":"W","s":"U1","d":"09-26","v":0.86},{"p":"W","s":"U1","d":"09-27","v":0.58},{"p":"W","s":"U1","d":"09-28","v":0.57},{"p":"W","s":"U1","d":"09-29","v":1.06},{"p":"W","s":"U1","d":"09-30","v":1.92},{"p":"W","s":"U1","d":"10-01","v":1.04},{"p":"W","s":"U1","d":"10-02","v":0.65},{"p":"W","s":"U1","d":"10-03","v":1.42},{"p":"W","s":"U1","d":"10-04","v":0.45},{"p":"W","s":"U1","d":"10-05","v":0.66},{"p":"W","s":"U1","d":"10-06","v":0.52},{"p":"W","s":"U1","d":"10-07","v":0.24},{"p":"W","s":"U1","d":"10-08","v":0.77},{"p":"W","s":"U1","d":"10-09","v":0.92},{"p":"W","s":"U1","d":"10-10","v":2.63},{"p":"W","s":"U1","d":"10-11","v":1.41},{"p":"W","s":"U1","d":"10-12","v":0.34},{"p":"W","s":"U1","d":"10-13","v":0.25},{"p":"W","s":"U1","d":"10-14","v":0.18},{"p":"W","s":"U1","d":"10-15","v":0.25},{"p":"W","s":"U1","d":"10-16","v":0.79},{"p":"W","s":"U1","d":"10-17","v":0.37},{"p":"W","s":"U1","d":"10-18","v":0.32},{"p":"W","s":"U1","d":"10-19","v":0.59},{"p":"W","s":"U1","d":"10-20","v":0.56},{"p":"W","s":"U1","d":"10-21","v":0.31},{"p":"W","s":"U1","d":"10-22","v":0.2},{"p":"W","s":"U1","d":"10-23","v":0.25},{"p":"W","s":"U1","d":"10-24","v":0.33},{"p":"W","s":"U1","d":"10-25","v":0.39},{"p":"W","s":"U1","d":"10-26","v":0.26},{"p":"W","s":"U1","d":"10-27","v":0.16},{"p":"W","s":"U1","d":"10-28","v":0.54},{"p":"W","s":"U1","d":"10-29","v":0.38},{"p":"W","s":"U1","d":"10-30","v":0.17},{"p":"W","s":"U1","d":"10-31","v":0.23},{"p":"W","s":"U1","d":"11-01","v":0.4},{"p":"W","s":"U1","d":"11-02","v":0.59},{"p":"W","s":"U1","d":"11-03","v":0.5},{"p":"W","s":"U1","d":"11-04","v":0.93},{"p":"W","s":"U1","d":"11-05","v":0.38},{"p":"W","s":"U1","d":"11-06","v":1.32},{"p":"W","s":"U1","d":"11-07","v":0.36},{"p":"W","s":"U1","d":"11-08","v":0.65},{"p":"W","s":"U1","d":"11-09","v":0.41},{"p":"W","s":"U1","d":"11-10","v":1.11},{"p":"W","s":"U1","d":"11-11","v":0.86},{"p":"W","s":"U1","d":"11-12","v":1.02},{"p":"W","s":"U1","d":"11-13","v":1.03},{"p":"W","s":"U1","d":"11-14","v":0.67},{"p":"W","s":"U1","d":"11-15","v":0.57},{"p":"W","s":"U1","d":"11-16","v":0.73},{"p":"W","s":"U1","d":"11-17","v":0.95},{"p":"W","s":"U1","d":"11-18","v":0.94},{"p":"W","s":"U1","d":"11-19","v":0.72},{"p":"W","s":"U1","d":"11-20","v":1.2},{"p":"W","s":"U1","d":"11-21","v":0.78},{"p":"W","s":"U1","d":"11-22","v":0.54},{"p":"W","s":"U1","d":"11-23","v":0.67},{"p":"W","s":"U1","d":"11-24","v":0.79},{"p":"W","s":"U1","d":"11-25","v":0.24},{"p":"W","s":"U1","d":"11-26","v":0.16},{"p":"W","s":"U1","d":"11-27","v":0.65},{"p":"W","s":"U1","d":"11-28","v":0.46},{"p":"W","s":"U1","d":"11-29","v":1.37},{"p":"W","s":"U1","d":"11-30","v":1.46},
{"p":"P","s":"U3","d":"09-01","v":6.0},{"p":"P","s":"U3","d":"09-02","v":8.0},{"p":"P","s":"U3","d":"09-03","v":3.0},{"p":"P","s":"U3","d":"09-04","v":4.0},{"p":"P","s":"U3","d":"09-05","v":4.5},{"p":"P","s":"U3","d":"09-06","v":4.5},{"p":"P","s":"U3","d":"09-07","v":9.0},{"p":"P","s":"U3","d":"09-08","v":17.0},{"p":"P","s":"U3","d":"09-09","v":9.5},{"p":"P","s":"U3","d":"09-10","v":4.5},{"p":"P","s":"U3","d":"09-11","v":4.5},{"p":"P","s":"U3","d":"09-12","v":4.0},{"p":"P","s":"U3","d":"09-13","v":5.0},{"p":"P","s":"U3","d":"09-14","v":4.5},{"p":"P","s":"U3","d":"09-15","v":6.5},{"p":"P","s":"U3","d":"09-16","v":7.5},{"p":"P","s":"U3","d":"09-17","v":5.5},{"p":"P","s":"U3","d":"09-18","v":2.0},{"p":"P","s":"U3","d":"09-19","v":2.5},{"p":"P","s":"U3","d":"09-20","v":4.0},{"p":"P","s":"U3","d":"09-21","v":5.5},{"p":"P","s":"U3","d":"09-22","v":6.5},{"p":"P","s":"U3","d":"09-23","v":6.5},{"p":"P","s":"U3","d":"09-24","v":9.5},{"p":"P","s":"U3","d":"09-25","v":27.0},{"p":"P","s":"U3","d":"09-26","v":14.0},{"p":"P","s":"U3","d":"09-27","v":5.0},{"p":"P","s":"U3","d":"09-28","v":4.5},{"p":"P","s":"U3","d":"09-29","v":3.5},{"p":"P","s":"U3","d":"09-30","v":6.5},{"p":"P","s":"U3","d":"10-01","v":3.0},{"p":"P","s":"U3","d":"10-02","v":6.5},{"p":"P","s":"U3","d":"10-03","v":2.0},{"p":"P","s":"U3","d":"10-04","v":6.0},{"p":"P","s":"U3","d":"10-05","v":10.0},{"p":"P","s":"U3","d":"10-06","v":5.5},{"p":"P","s":"U3","d":"10-07","v":8.5},{"p":"P","s":"U3","d":"10-08","v":7.5},{"p":"P","s":"U3","d":"10-09","v":11.0},{"p":"P","s":"U3","d":"10-10","v":3.5},{"p":"P","s":"U3","d":"10-11","v":2.0},{"p":"P","s":"U3","d":"10-12","v":9.0},{"p":"P","s":"U3","d":"10-13","v":15.0},{"p":"P","s":"U3","d":"10-14","v":20.0},{"p":"P","s":"U3","d":"10-15","v":28.0},{"p":"P","s":"U3","d":"10-16","v":26.0},{"p":"P","s":"U3","d":"10-17","v":7.0},{"p":"P","s":"U3","d":"10-18","v":11.5},{"p":"P","s":"U3","d":"10-19","v":15.5},{"p":"P","s":"U3","d":"10-20","v":17.0},{"p":"P","s":"U3","d":"10-21","v":19.0},{"p":"P","s":"U3","d":"10-22","v":28.0},{"p":"P","s":"U3","d":"10-23","v":30.0},{"p":"P","s":"U3","d":"10-24","v":38.0},{"p":"P","s":"U3","d":"10-25","v":34.0},{"p":"P","s":"U3","d":"10-26","v":36.0},{"p":"P","s":"U3","d":"10-27","v":60.0},{"p":"P","s":"U3","d":"10-28","v":45.0},{"p":"P","s":"U3","d":"10-29","v":10.0},{"p":"P","s":"U3","d":"10-30","v":13.0},{"p":"P","s":"U3","d":"10-31","v":11.5},{"p":"P","s":"U3","d":"11-01","v":16.5},{"p":"P","s":"U3","d":"11-02","v":17.0},{"p":"P","s":"U3","d":"11-03","v":15.0},{"p":"P","s":"U3","d":"11-04","v":8.0},{"p":"P","s":"U3","d":"11-05","v":9.5},{"p":"P","s":"U3","d":"11-06","v":11.0},{"p":"P","s":"U3","d":"11-07","v":15.0},{"p":"P","s":"U3","d":"11-08","v":14.0},{"p":"P","s":"U3","d":"11-09","v":19.0},{"p":"P","s":"U3","d":"11-10","v":10.5},{"p":"P","s":"U3","d":"11-11","v":15.5},{"p":"P","s":"U3","d":"11-12","v":14.5},{"p":"P","s":"U3","d":"11-13","v":13.5},{"p":"P","s":"U3","d":"11-14","v":11.5},{"p":"P","s":"U3","d":"11-15","v":21.0},{"p":"P","s":"U3","d":"11-16","v":15.5},{"p":"P","s":"U3","d":"11-17","v":15.0},{"p":"P","s":"U3","d":"11-18","v":13.0},{"p":"P","s":"U3","d":"11-19","v":13.5},{"p":"P","s":"U3","d":"11-20","v":17.5},{"p":"P","s":"U3","d":"11-21","v":15.5},{"p":"P","s":"U3","d":"11-22","v":8.0},{"p":"P","s":"U3","d":"11-23","v":8.5},{"p":"P","s":"U3","d":"11-24","v":16.0},{"p":"P","s":"U3","d":"11-25","v":24.0},{"p":"P","s":"U3","d":"11-26","v":31.0},{"p":"P","s":"U3","d":"11-27","v":32.0},{"p":"P","s":"U3","d":"11-28","v":23.0},{"p":"P","s":"U3","d":"11-29","v":9.5},{"p":"P","s":"U3","d":"11-30","v":6.0},
{"p":"P","s":"U2","d":"09-01","v":7.0},{"p":"P","s":"U2","d":"09-02","v":9.0},{"p":"P","s":"U2","d":"09-03","v":3.5},{"p":"P","s":"U2","d":"09-04","v":4.6},{"p":"P","s":"U2","d":"09-05","v":5.5},{"p":"P","s":"U2","d":"09-06","v":5.5},{"p":"P","s":"U2","d":"09-07","v":10.0},{"p":"P","s":"U2","d":"09-08","v":44.8},{"p":"P","s":"U2","d":"09-09","v":10.5},{"p":"P","s":"U2","d":"09-10","v":5.0},{"p":"P","s":"U2","d":"09-11","v":5.0},{"p":"P","s":"U2","d":"09-12","v":18.7},{"p":"P","s":"U2","d":"09-13","v":5.5},{"p":"P","s":"U2","d":"09-14","v":5.0},{"p":"P","s":"U2","d":"09-15","v":5.5},{"p":"P","s":"U2","d":"09-16","v":8.0},{"p":"P","s":"U2","d":"09-17","v":6.0},{"p":"P","s":"U2","d":"09-18","v":2.5},{"p":"P","s":"U2","d":"09-19","v":3.0},{"p":"P","s":"U2","d":"09-20","v":4.5},{"p":"P","s":"U2","d":"09-21","v":6.0},{"p":"P","s":"U2","d":"09-22","v":7.5},{"p":"P","s":"U2","d":"09-23","v":7.0},{"p":"P","s":"U2","d":"09-24","v":26.5},{"p":"P","s":"U2","d":"09-25","v":30.5},{"p":"P","s":"U2","d":"09-26","v":15.0},{"p":"P","s":"U2","d":"09-27","v":5.5},{"p":"P","s":"U2","d":"09-28","v":5.0},{"p":"P","s":"U2","d":"09-29","v":4.0},{"p":"P","s":"U2","d":"09-30","v":6.5},{"p":"P","s":"U2","d":"10-01","v":3.5},{"p":"P","s":"U2","d":"10-02","v":6.0},{"p":"P","s":"U2","d":"10-03","v":2.5},{"p":"P","s":"U2","d":"10-04","v":6.5},{"p":"P","s":"U2","d":"10-05","v":28.3},{"p":"P","s":"U2","d":"10-06","v":5.5},{"p":"P","s":"U2","d":"10-07","v":9.0},{"p":"P","s":"U2","d":"10-08","v":8.0},{"p":"P","s":"U2","d":"10-09","v":18.0},{"p":"P","s":"U2","d":"10-10","v":4.0},{"p":"P","s":"U2","d":"10-11","v":3.5},{"p":"P","s":"U2","d":"10-12","v":11.0},{"p":"P","s":"U2","d":"10-13","v":17.5},{"p":"P","s":"U2","d":"10-14","v":23.0},{"p":"P","s":"U2","d":"10-15","v":33.0},{"p":"P","s":"U2","d":"10-16","v":30.0},{"p":"P","s":"U2","d":"10-17","v":9.0},{"p":"P","s":"U2","d":"10-18","v":13.0},{"p":"P","s":"U2","d":"10-19","v":17.0},{"p":"P","s":"U2","d":"10-20","v":19.0},{"p":"P","s":"U2","d":"10-21","v":21.0},{"p":"P","s":"U2","d":"10-22","v":33.0},{"p":"P","s":"U2","d":"10-23","v":30.0},{"p":"P","s":"U2","d":"10-24","v":45.0},{"p":"P","s":"U2","d":"10-25","v":38.0},{"p":"P","s":"U2","d":"10-26","v":40.0},{"p":"P","s":"U2","d":"10-27","v":74.5},{"p":"P","s":"U2","d":"10-28","v":52.0},{"p":"P","s":"U2","d":"10-29","v":12.0},{"p":"P","s":"U2","d":"10-30","v":15.0},{"p":"P","s":"U2","d":"10-31","v":13.0},{"p":"P","s":"U2","d":"11-01","v":20.0},{"p":"P","s":"U2","d":"11-02","v":20.5},{"p":"P","s":"U2","d":"11-03","v":18.0},{"p":"P","s":"U2","d":"11-04","v":9.5},{"p":"P","s":"U2","d":"11-05","v":11.5},{"p":"P","s":"U2","d":"11-06","v":12.5},{"p":"P","s":"U2","d":"11-07","v":18.0},{"p":"P","s":"U2","d":"11-08","v":16.5},{"p":"P","s":"U2","d":"11-09","v":22.0},{"p":"P","s":"U2","d":"11-10","v":12.5},{"p":"P","s":"U2","d":"11-11","v":19.0},{"p":"P","s":"U2","d":"11-12","v":17.0},{"p":"P","s":"U2","d":"11-13","v":16.0},{"p":"P","s":"U2","d":"11-14","v":13.5},{"p":"P","s":"U2","d":"11-15","v":26.0},{"p":"P","s":"U2","d":"11-16","v":18.5},{"p":"P","s":"U2","d":"11-17","v":18.0},{"p":"P","s":"U2","d":"11-18","v":15.5},{"p":"P","s":"U2","d":"11-19","v":16.0},{"p":"P","s":"U2","d":"11-20","v":21.0},{"p":"P","s":"U2","d":"11-21","v":18.5},{"p":"P","s":"U2","d":"11-22","v":9.5},{"p":"P","s":"U2","d":"11-23","v":10.0},{"p":"P","s":"U2","d":"11-24","v":20.0},{"p":"P","s":"U2","d":"11-25","v":28.0},{"p":"P","s":"U2","d":"11-26","v":35.0},{"p":"P","s":"U2","d":"11-27","v":37.0},{"p":"P","s":"U2","d":"11-28","v":27.0},{"p":"P","s":"U2","d":"11-29","v":11.0},{"p":"P","s":"U2","d":"11-30","v":7.0},
{"p":"P","s":"U1","d":"09-01","v":7.3},{"p":"P","s":"U1","d":"09-02","v":9.4},{"p":"P","s":"U1","d":"09-03","v":3.0},{"p":"P","s":"U1","d":"09-04","v":4.4},{"p":"P","s":"U1","d":"09-05","v":5.2},{"p":"P","s":"U1","d":"09-06","v":4.7},{"p":"P","s":"U1","d":"09-07","v":10.8},{"p":"P","s":"U1","d":"09-08","v":20.8},{"p":"P","s":"U1","d":"09-09","v":11.7},{"p":"P","s":"U1","d":"09-10","v":5.6},{"p":"P","s":"U1","d":"09-11","v":5.2},{"p":"P","s":"U1","d":"09-12","v":3.8},{"p":"P","s":"U1","d":"09-13","v":5.2},{"p":"P","s":"U1","d":"09-14","v":5.2},{"p":"P","s":"U1","d":"09-15","v":5.6},{"p":"P","s":"U1","d":"09-16","v":7.3},{"p":"P","s":"U1","d":"09-17","v":5.9},{"p":"P","s":"U1","d":"09-18","v":1.7},{"p":"P","s":"U1","d":"09-19","v":2.4},{"p":"P","s":"U1","d":"09-20","v":4.2},{"p":"P","s":"U1","d":"09-21","v":5.9},{"p":"P","s":"U1","d":"09-22","v":8.7},{"p":"P","s":"U1","d":"09-23","v":8.2},{"p":"P","s":"U1","d":"09-24","v":11.7},{"p":"P","s":"U1","d":"09-25","v":33.1},{"p":"P","s":"U1","d":"09-26","v":16.4},{"p":"P","s":"U1","d":"09-27","v":5.9},{"p":"P","s":"U1","d":"09-28","v":5.9},{"p":"P","s":"U1","d":"09-29","v":4.2},{"p":"P","s":"U1","d":"09-30","v":8.0},{"p":"P","s":"U1","d":"10-01","v":4.5},{"p":"P","s":"U1","d":"10-02","v":7.6},{"p":"P","s":"U1","d":"10-03","v":2.5},{"p":"P","s":"U1","d":"10-04","v":7.5},{"p":"P","s":"U1","d":"10-05","v":12.0},{"p":"P","s":"U1","d":"10-06","v":6.7},{"p":"P","s":"U1","d":"10-07","v":10.4},{"p":"P","s":"U1","d":"10-08","v":10.4},{"p":"P","s":"U1","d":"10-09","v":13.8},{"p":"P","s":"U1","d":"10-10","v":4.7},{"p":"P","s":"U1","d":"10-11","v":5.0},{"p":"P","s":"U1","d":"10-12","v":13.0},{"p":"P","s":"U1","d":"10-13","v":20.4},{"p":"P","s":"U1","d":"10-14","v":26.0},{"p":"P","s":"U1","d":"10-15","v":36.4},{"p":"P","s":"U1","d":"10-16","v":33.3},{"p":"P","s":"U1","d":"10-17","v":10.8},{"p":"P","s":"U1","d":"10-18","v":15.5},{"p":"P","s":"U1","d":"10-19","v":20.7},{"p":"P","s":"U1","d":"10-20","v":21.5},{"p":"P","s":"U1","d":"10-21","v":25.2},{"p":"P","s":"U1","d":"10-22","v":37.2},{"p":"P","s":"U1","d":"10-23","v":33.8},{"p":"P","s":"U1","d":"10-24","v":40.5},{"p":"P","s":"U1","d":"10-25","v":42.2},{"p":"P","s":"U1","d":"10-26","v":47.1},{"p":"P","s":"U1","d":"10-27","v":95.5},{"p":"P","s":"U1","d":"10-28","v":60.0},{"p":"P","s":"U1","d":"10-29","v":14.3},{"p":"P","s":"U1","d":"10-30","v":17.8},{"p":"P","s":"U1","d":"10-31","v":15.2},{"p":"P","s":"U1","d":"11-01","v":26.9},{"p":"P","s":"U1","d":"11-02","v":26.9},{"p":"P","s":"U1","d":"11-03","v":22.7},{"p":"P","s":"U1","d":"11-04","v":11.2},{"p":"P","s":"U1","d":"11-05","v":14.0},{"p":"P","s":"U1","d":"11-06","v":15.7},{"p":"P","s":"U1","d":"11-07","v":22.2},{"p":"P","s":"U1","d":"11-08","v":20.9},{"p":"P","s":"U1","d":"11-09","v":28.6},{"p":"P","s":"U1","d":"11-10","v":15.2},{"p":"P","s":"U1","d":"11-11","v":23.9},{"p":"P","s":"U1","d":"11-12","v":21.3},{"p":"P","s":"U1","d":"11-13","v":19.5},{"p":"P","s":"U1","d":"11-14","v":16.4},{"p":"P","s":"U1","d":"11-15","v":32.1},{"p":"P","s":"U1","d":"11-16","v":23.4},{"p":"P","s":"U1","d":"11-17","v":22.7},{"p":"P","s":"U1","d":"11-18","v":19.2},{"p":"P","s":"U1","d":"11-19","v":19.2},{"p":"P","s":"U1","d":"11-20","v":26.9},{"p":"P","s":"U1","d":"11-21","v":22.7},{"p":"P","s":"U1","d":"11-22","v":11.2},{"p":"P","s":"U1","d":"11-23","v":12.2},{"p":"P","s":"U1","d":"11-24","v":25.1},{"p":"P","s":"U1","d":"11-25","v":38.7},{"p":"P","s":"U1","d":"11-26","v":55.3},{"p":"P","s":"U1","d":"11-27","v":50.6},{"p":"P","s":"U1","d":"11-28","v":32.6},{"p":"P","s":"U1","d":"11-29","v":12.2},{"p":"P","s":"U1","d":"11-30","v":7.3}
]},
"vconcat":[
{"hconcat":[
{"title":"Parameter: Temperature (°C)","width":396,"height":197,
"transform":[{"filter":"datum.p==='T'"}],
"encoding":{
"x":{"field":"d","type":"temporal","scale":{"domain":[{"year":1900,"month":8,"date":27,"hours":14},{"year":1900,"month":12,"date":2,"hours":12}],"nice":false},
"axis":{"title":"Date","values":[{"year":1900,"month":9,"date":1},{"year":1900,"month":9,"date":16},{"year":1900,"month":10,"date":1},{"year":1900,"month":10,"date":16,"hours":12},{"year":1900,"month":11,"date":1},{"year":1900,"month":11,"date":16},{"year":1900,"month":12,"date":1}],"labelExpr":"date(datum.value)===1?timeFormat(datum.value,'%b'):''","gridColor":{"condition":{"test":"date(datum.value)===1","value":"#e2e2e2"},"value":"#f1f1f1"},"tickOpacity":{"condition":{"test":"date(datum.value)===1","value":1},"value":0}}},
"y":{"field":"v","type":"quantitative","scale":{"domain":[1.7,29.4],"nice":false,"zero":false},
"axis":{"title":"Daily mean","values":[5,10,15,20,25],"labelExpr":"datum.value%10===0?format(datum.value,'d'):''","gridColor":{"condition":{"test":"datum.value%10===0","value":"#e2e2e2"},"value":"#f1f1f1"},"tickOpacity":{"condition":{"test":"datum.value%10===0","value":1},"value":0}}},
"color":{"field":"s","type":"nominal","scale":{"domain":["U1","U2","U3"],"range":["#000000","#939393","#d3d3d3"]},
"legend":{"title":null,"orient":"none","legendX":864,"legendY":181,"labelFontSize":12,"labelColor":"black","symbolSize":600,"rowPadding":11,"labelOffset":10,
"encode":{"symbols":{"update":{"shape":{"signal":"datum.value==='U1'?'M-1,0H1M0.25,0A0.25,0.25,0,1,1,-0.25,0A0.25,0.25,0,1,1,0.25,0Z':(datum.value==='U2'?'M-1,0H1M0,-0.28L0.27,0.2L-0.27,0.2Z':'M-1,0H1M-0.2,-0.2H0.2V0.2H-0.2Z')"},"fill":{"signal":"scale('color',datum.value)"},"stroke":{"signal":"scale('color',datum.value)"},"strokeWidth":{"value":1.5},"opacity":{"value":1}}}}}}
},
"layer":[{"mark":{"type":"line"}},
{"transform":[{"filter":"datum.s==='U3'"}],"mark":{"type":"point","shape":"square","size":9}},
{"transform":[{"filter":"datum.s==='U2'"}],"mark":{"type":"point","shape":"triangle-up","size":14}},
{"transform":[{"filter":"datum.s==='U1'"}],"mark":{"type":"point","shape":"circle","size":11}}]
},
{"title":"Parameter: Relative humidity (%)","width":391,"height":197,
"transform":[{"filter":"datum.p==='H'"}],
"encoding":{
"x":{"field":"d","type":"temporal","scale":{"domain":[{"year":1900,"month":8,"date":27,"hours":14},{"year":1900,"month":12,"date":2,"hours":12}],"nice":false},
"axis":{"title":"Date","values":[{"year":1900,"month":9,"date":1},{"year":1900,"month":9,"date":16},{"year":1900,"month":10,"date":1},{"year":1900,"month":10,"date":16,"hours":12},{"year":1900,"month":11,"date":1},{"year":1900,"month":11,"date":16},{"year":1900,"month":12,"date":1}],"labelExpr":"date(datum.value)===1?timeFormat(datum.value,'%b'):''","gridColor":{"condition":{"test":"date(datum.value)===1","value":"#e2e2e2"},"value":"#f1f1f1"},"tickOpacity":{"condition":{"test":"date(datum.value)===1","value":1},"value":0}}},
"y":{"field":"v","type":"quantitative","scale":{"domain":[39.6,102.9],"nice":false,"zero":false},
"axis":{"title":"Daily mean","values":[40,50,60,70,80,90,100],"labelExpr":"datum.value%20===0?format(datum.value,'d'):''","gridColor":{"condition":{"test":"datum.value%20===0","value":"#e2e2e2"},"value":"#f1f1f1"},"tickOpacity":{"condition":{"test":"datum.value%20===0","value":1},"value":0}}},
"color":{"field":"s","type":"nominal","scale":{"domain":["U1","U2","U3"],"range":["#000000","#939393","#d3d3d3"]},"legend":null}
},
"layer":[{"mark":{"type":"line"}},
{"transform":[{"filter":"datum.s==='U3'"}],"mark":{"type":"point","shape":"square","size":9}},
{"transform":[{"filter":"datum.s==='U2'"}],"mark":{"type":"point","shape":"triangle-up","size":14}},
{"transform":[{"filter":"datum.s==='U1'"}],"mark":{"type":"point","shape":"circle","size":11}}]
}
],"spacing":14},
{"hconcat":[
{"title":"Parameter: Wind (m/s)","width":400,"height":197,
"transform":[{"filter":"datum.p==='W'"}],
"encoding":{
"x":{"field":"d","type":"temporal","scale":{"domain":[{"year":1900,"month":8,"date":27,"hours":14},{"year":1900,"month":12,"date":2,"hours":12}],"nice":false},
"axis":{"title":"Date","values":[{"year":1900,"month":9,"date":1},{"year":1900,"month":9,"date":16},{"year":1900,"month":10,"date":1},{"year":1900,"month":10,"date":16,"hours":12},{"year":1900,"month":11,"date":1},{"year":1900,"month":11,"date":16},{"year":1900,"month":12,"date":1}],"labelExpr":"date(datum.value)===1?timeFormat(datum.value,'%b'):''","gridColor":{"condition":{"test":"date(datum.value)===1","value":"#e2e2e2"},"value":"#f1f1f1"},"tickOpacity":{"condition":{"test":"date(datum.value)===1","value":1},"value":0}}},
"y":{"field":"v","type":"quantitative","scale":{"domain":[-0.13,2.76],"nice":false,"zero":false},
"axis":{"title":"Daily mean","values":[0,0.5,1,1.5,2,2.5],"labelExpr":"datum.value%1===0?format(datum.value,'d'):''","gridColor":{"condition":{"test":"datum.value%1===0","value":"#e2e2e2"},"value":"#f1f1f1"},"tickOpacity":{"condition":{"test":"datum.value%1===0","value":1},"value":0}}},
"color":{"field":"s","type":"nominal","scale":{"domain":["U1","U2","U3"],"range":["#000000","#939393","#d3d3d3"]},"legend":null}
},
"layer":[{"mark":{"type":"line"}},
{"transform":[{"filter":"datum.s==='U3'"}],"mark":{"type":"point","shape":"square","size":9}},
{"transform":[{"filter":"datum.s==='U2'"}],"mark":{"type":"point","shape":"triangle-up","size":14}},
{"transform":[{"filter":"datum.s==='U1'"}],"mark":{"type":"point","shape":"circle","size":11}}]
},
{"title":"Parameter: PM 2.5 (µg/m3)","width":395,"height":197,
"transform":[{"filter":"datum.p==='P'"}],
"encoding":{
"x":{"field":"d","type":"temporal","scale":{"domain":[{"year":1900,"month":8,"date":27,"hours":14},{"year":1900,"month":12,"date":2,"hours":12}],"nice":false},
"axis":{"title":"Date","values":[{"year":1900,"month":9,"date":1},{"year":1900,"month":9,"date":16},{"year":1900,"month":10,"date":1},{"year":1900,"month":10,"date":16,"hours":12},{"year":1900,"month":11,"date":1},{"year":1900,"month":11,"date":16},{"year":1900,"month":12,"date":1}],"labelExpr":"date(datum.value)===1?timeFormat(datum.value,'%b'):''","gridColor":{"condition":{"test":"date(datum.value)===1","value":"#e2e2e2"},"value":"#f1f1f1"},"tickOpacity":{"condition":{"test":"date(datum.value)===1","value":1},"value":0}}},
"y":{"field":"v","type":"quantitative","scale":{"domain":[-3,99.7],"nice":false,"zero":false},
"axis":{"title":"Daily mean","values":[0,12.5,25,37.5,50,62.5,75,87.5],"labelExpr":"datum.value%25===0?format(datum.value,'d'):''","gridColor":{"condition":{"test":"datum.value%25===0","value":"#e2e2e2"},"value":"#f1f1f1"},"tickOpacity":{"condition":{"test":"datum.value%25===0","value":1},"value":0}}},
"color":{"field":"s","type":"nominal","scale":{"domain":["U1","U2","U3"],"range":["#000000","#939393","#d3d3d3"]},"legend":null}
},
"layer":[{"mark":{"type":"line"}},
{"transform":[{"filter":"datum.s==='U3'"}],"mark":{"type":"point","shape":"square","size":9}},
{"transform":[{"filter":"datum.s==='U2'"}],"mark":{"type":"point","shape":"triangle-up","size":14}},
{"transform":[{"filter":"datum.s==='U1'"}],"mark":{"type":"point","shape":"circle","size":11}}]
}
],"spacing":14}
],"spacing":10
}
